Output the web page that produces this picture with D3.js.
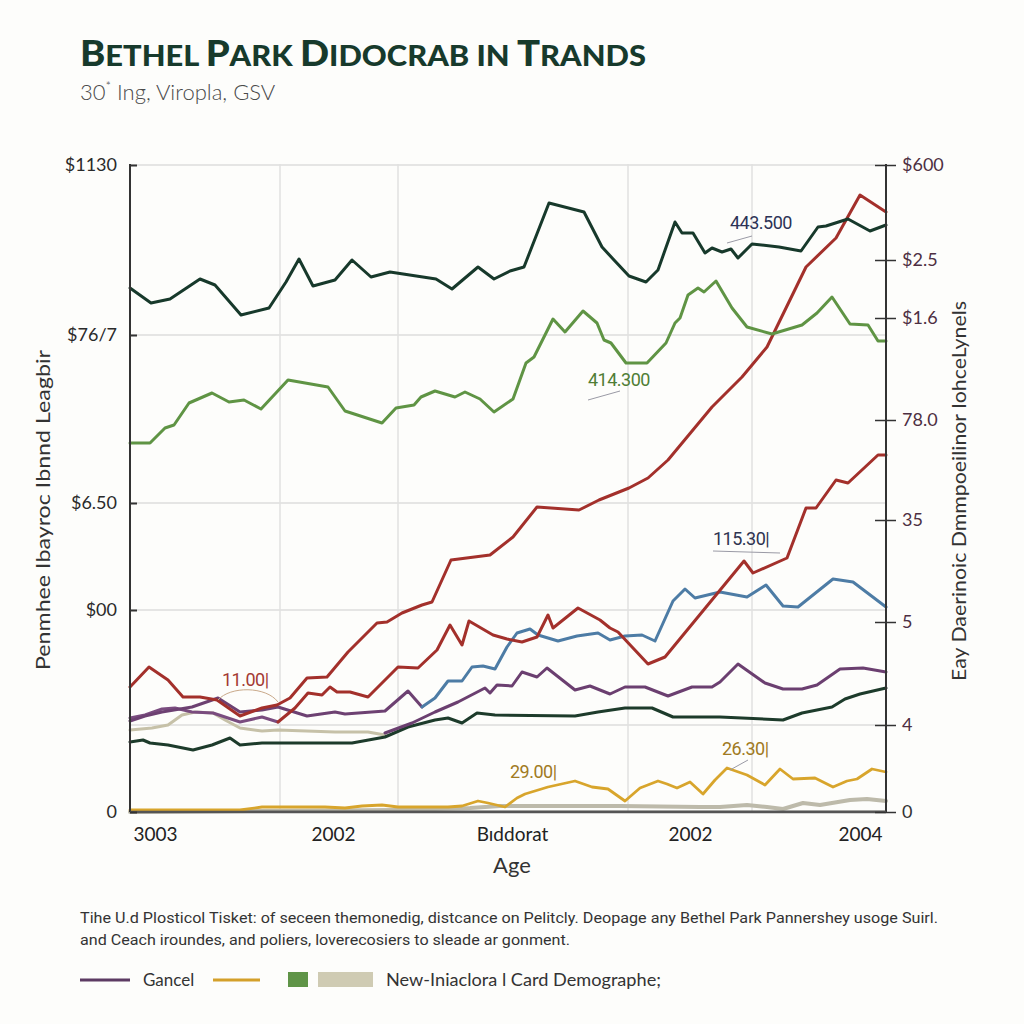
<!DOCTYPE html>
<html><head><meta charset="utf-8">
<script src="https://cdn.jsdelivr.net/npm/d3@7"></script>
<style>
html,body{margin:0;padding:0;background:#fdfdfb;}
svg{display:block;}
</style></head><body>
<svg id="chart" width="1024" height="1024"></svg>
<script>
// ---------- DATA ----------
const leftTickValues = [0, 101, 154.5, 238.5, 323.5];
const leftTickLabels = ["0", "$00", "$6.50", "$76/7", "$1130"];
const rightTickValues = [0, 43.5, 95, 146, 196, 247, 276, 323.5];
const rightTickLabels = ["0", "4", "5", "35", "78.0", "$1.6", "$2.5", "$600"];
const xTickValues = [12.5, 101.5, 191, 280, 365];
const xTickLabels = ["3003", "2002", "Bıddorat", "2002", "2004"];
const gridXValues = [75, 134, 249, 311];
const gridYValues = [43.5, 101, 154.5, 238.5, 323.5];

const darkTop = [[0,262],[10.5,254.5],[20,256.5],[35,266.5],[42.5,263.5],[55.5,248.5],[69.5,252],[78,265],[84.5,276.5],[91.5,263],[102.5,266],[111,276],[120.5,267.5],[130,270],[153,266.5],[161,261.5],[174,272.5],[182,266.5],[190,270.5],[197,272.5],[209.5,304.5],[227,300],[236,282.5],[242,276],[249.5,268],[258,265],[264,271],[272.5,295],[276,289.5],[281.5,289.5],[287.5,279.5],[291,282],[296,280],[300.5,281.5],[304,277],[311,284],[324.5,282.5],[335.5,280.5],[344,292.5],[348,293],[359,296.5],[370,290.5],[378,293.5]];
const greenLine = [[0,184.5],[10,184.5],[17.5,192],[22,193.5],[29.5,204.5],[41,209.5],[49.5,205],[57,206],[65.5,201.5],[79,216],[99,212.5],[107.5,200.5],[126,194.5],[133,202],[142,203.5],[145.5,207.5],[152.5,210.5],[162.5,207.5],[167.5,210],[175,206.5],[182,200],[191.5,206.5],[198,224.5],[202,227.5],[207,237.5],[211.5,246.5],[217.5,240],[226.5,250.5],[233.5,244.5],[237,236],[240.5,234.5],[248,224.5],[258.5,224.5],[268,234.5],[272.5,244.5],[275,247],[279,258.5],[284,262],[287,260],[293,265.5],[301,252],[308.5,242.5],[321,239],[336,243.5],[343.5,249.5],[351,257.5],[360,244],[369,243.5],[374,235.5],[378,235.5]];
const redA = [[0,62.5],[9.5,72.5],[19,66],[26.5,57.5],[35,57.5],[43.5,56],[55,48],[66,52],[73.5,53.5],[80,57],[88.5,67],[98.5,67.5],[109,80],[123.5,94.5],[128.5,95],[136,99.5],[146,103.5],[151,105],[160.5,126],[180,128.5],[191.5,137.5],[203.5,152.5],[224.5,151],[234.5,156],[249.5,162],[259,167],[269,176],[291,202.5],[306,217.5],[318.5,232.5],[338,272.5],[353,287],[365,308.5],[378,300]];
const redB = [[74,45],[82.5,52],[89,59.5],[96,58.5],[100,62.5],[103.5,60],[110,60],[119,57.5],[134,72.5],[144,72],[153.5,81],[160,93.5],[166,83.5],[169.5,95.5],[181.5,88.5],[188.5,86.5],[196,85],[203.5,87.5],[209,98.5],[211.5,92],[224,102],[235,96],[240,92],[244,90],[259,74],[267.5,77.5],[307,125.5],[311.5,119.5],[328.5,127],[338,152],[343,152],[353,166],[359,164.5],[374,178.5],[378,178.5]];
const blueLine = [[146,52.5],[152.5,57],[159,65.5],[166,65.5],[171,72.5],[176.5,73],[182.5,71.5],[188.5,82.5],[193.5,89.5],[200,91.5],[204,88.5],[214,85.5],[223.5,88],[234,89.5],[240,86],[247.5,88],[256,88.5],[262.5,85.5],[271.5,105.5],[277.5,111.5],[282.5,107],[295,110],[308.5,107.5],[318,113.5],[326.5,103],[334,102.5],[351.5,116.5],[361.5,115],[378,102.5]];
const purpleMain = [[127.5,39.5],[141,44.5],[152.5,50],[164,55],[177.5,62],[180,59.5],[183.5,63.5],[191,63],[196,70],[203.5,67.5],[208.5,72],[222.5,61],[230,63],[240,59],[247.5,62.5],[257.5,62.5],[269,58],[281,62.5],[291,62.5],[295,65],[304,74],[317.5,64.5],[326.5,61.5],[336,61.5],[343.5,63.5],[355,71.5],[366.5,72],[378,70]];
const purpleEarlyA = [[0,47],[7.5,48.5],[16,51.5],[22.5,52],[31,50],[41.5,49.5],[55,45],[66,47.5],[74,45]];
const purpleEarlyB = [[0,45.5],[7.5,48],[16,50],[31,52.5],[44,57],[55,50],[66,51],[74,52.5],[88.5,48],[102.5,50],[107.5,49],[127.5,50.5],[139,60.5],[146,52.5]];
const beigeLine = [[0,41],[11,42],[19,43.5],[26,48.5],[32.5,50],[41.5,49.5],[47.5,46],[55,42],[66,40.5],[74,41],[102.5,40],[119,40],[127.5,38.5]];
const darkLow = [[0,35],[6.5,36],[10,34.5],[19,33.5],[31.5,31],[41,33.5],[50,37],[55,33.5],[66,34.5],[74,34.5],[111,34.5],[127.5,37.5],[139,42.5],[152.5,46],[159,47],[166,44.5],[173.5,49.5],[182.5,48.5],[222.5,48],[234,50],[247.5,52],[261,52],[271.5,47.5],[295,47.5],[326.5,46],[336,49.5],[351,52.5],[357.5,56.5],[365,59],[378,62]];
const goldLine = [[0,1],[55,1],[66,2.5],[97.5,2.5],[107.5,2],[116,3],[126,3.5],[134,2.5],[159,2.5],[166,3],[174,5.5],[179,4.5],[187.5,2.5],[193.5,7],[197.5,9],[209,12.5],[222.5,15.5],[231,12.5],[239,11.5],[247.5,5.5],[255,12],[264,15.5],[268.5,14],[273.5,12],[280,15],[286.5,9],[292.5,16],[298.5,22],[308.5,18.5],[317.5,13.5],[325,21.5],[331.5,16.5],[342.5,17],[351.5,12.5],[358.5,15.5],[363.5,16.5],[371,21.5],[378,20]];
const grayLine = [[0,0],[60,0.5],[135,1],[170,2],[185,3],[215,3],[245,3],[285,2.5],[295,2.5],[308.5,3.5],[318.5,2.5],[326.5,1.5],[336.5,4.5],[345,3.5],[360,6],[368.5,6.5],[378,5.5]];
const grayDark = [[0,0.3],[378,0.3]];

const annotations = [
  {text:"443.500", x:300, y:291.5, color:"#2c3356", arrow:[[311,288],[298.5,284.5]]},
  {text:"414.300", x:229, y:213, color:"#4f7d35", arrow:[[245,210.5],[229,206]]},
  {text:"115.30|", x:291.5, y:133.5, color:"#2e3350", arrow:[[291.5,130.5],[325,129.5]]},
  {text:"11.00|", x:46, y:63, color:"#a33a33", arrow:null},
  {text:"29.00|", x:190, y:17, color:"#a07a22", arrow:null},
  {text:"26.30|", x:296, y:28.5, color:"#a07a22", arrow:[[309,26],[300,21]]}
];

// ---------- SETUP ----------
const svg = d3.select("#chart");
svg.append("rect").attr("width",1024).attr("height",1024).attr("fill","#fdfdfb");
const M = {left:130, right:886, top:164, bottom:812};
const x = d3.scaleLinear().domain([0,378]).range([M.left, M.right]);
const y = d3.scaleLinear().domain([0,324]).range([M.bottom, M.top]);
const FONT = "Lato, 'Open Sans', sans-serif";

// Title
const title = svg.append("text").attr("x",80).attr("y",66)
  .attr("font-family",FONT).attr("font-weight",900).attr("fill","#173a2c")
  .attr("textLength",566).attr("lengthAdjust","spacingAndGlyphs");
[["B",36],["ETHEL ",29],["P",36],["ARK ",29],["D",36],["IDOCRAB ",29],["IN ",29],["T",36],["RANDS",29]]
  .forEach(([t,s])=>title.append("tspan").attr("font-size",s).text(t));

const sub = svg.append("text").attr("x",80).attr("y",100)
  .attr("font-family",FONT).attr("font-weight",300).attr("font-size",22).attr("fill","#4a4a4a");
sub.append("tspan").text("30");
sub.append("tspan").attr("font-size",13).attr("dy",-9).text("*");
sub.append("tspan").attr("dy",9).text(" Ing, Viropla, GSV");

// Grid
const g = svg.append("g");
g.selectAll(".gy").data(gridYValues).join("line")
  .attr("x1",M.left).attr("x2",M.right).attr("y1",d=>y(d)).attr("y2",d=>y(d))
  .attr("stroke","#dcdcdc").attr("stroke-width",1.5);
g.selectAll(".gx").data(gridXValues).join("line")
  .attr("y1",M.top).attr("y2",M.bottom).attr("x1",d=>x(d)).attr("x2",d=>x(d))
  .attr("stroke","#e0e0e0").attr("stroke-width",1.5);

// Lines
const line = d3.line().x(d=>x(d[0])).y(d=>y(d[1]));
const lg = svg.append("g").attr("fill","none").attr("stroke-linejoin","round").attr("stroke-linecap","round");
const draw = (data,color,w)=>lg.append("path").datum(data).attr("d",line).attr("stroke",color).attr("stroke-width",w);
draw(grayLine,"#bdbaaa",4);
draw(grayDark,"#7d7d78",2);
draw(goldLine,"#d8a52c",2.8);
draw(beigeLine,"#c6c1a8",3);
draw(darkLow,"#1d3b2b",3);
draw(purpleEarlyA,"#7a4c7f",3);
draw(purpleEarlyB,"#6d4172",3);
draw(purpleMain,"#6b3f70",3);
draw(blueLine,"#4d7ca5",3);
draw(redB,"#a3302b",3);
draw(redA,"#a3302b",3);
draw(greenLine,"#5f9444",3);
draw(darkTop,"#17392b",3);

// Axes
const axG = svg.append("g").attr("stroke","#333").attr("stroke-width",2);
axG.append("line").attr("x1",M.left).attr("x2",M.left).attr("y1",M.top).attr("y2",M.bottom);
axG.append("line").attr("x1",M.right).attr("x2",M.right).attr("y1",M.top).attr("y2",M.bottom);
axG.append("line").attr("x1",M.left).attr("x2",M.right).attr("y1",M.bottom).attr("y2",M.bottom).attr("stroke","#555").attr("stroke-width",2.5);

const leftAxis = svg.append("g").attr("transform",`translate(${M.left},0)`)
  .call(d3.axisLeft(y).tickValues(leftTickValues).tickFormat((d,i)=>leftTickLabels[i]).tickSize(-7).tickPadding(13).tickSizeOuter(0));
leftAxis.select(".domain").remove();
leftAxis.selectAll("line").attr("stroke","#333").attr("stroke-width",2);
leftAxis.selectAll("text").attr("font-family",FONT).attr("font-size",18).attr("fill","#2a2a2a");

const rightAxis = svg.append("g").attr("transform",`translate(${M.right},0)`)
  .call(d3.axisRight(y).tickValues(rightTickValues).tickFormat((d,i)=>rightTickLabels[i]).tickSize(10).tickPadding(6).tickSizeOuter(0));
rightAxis.select(".domain").remove();
rightAxis.selectAll(".tick line").attr("x1",-11).attr("stroke","#333").attr("stroke-width",1.5);
rightAxis.selectAll("text").attr("font-family",FONT).attr("font-size",18)
  .attr("fill",(d,i)=>i===0?"#333":"#4d2f42");

const bottomAxis = svg.append("g").attr("transform",`translate(0,${M.bottom})`)
  .call(d3.axisBottom(x).tickValues(xTickValues).tickFormat((d,i)=>xTickLabels[i]).tickSize(0).tickPadding(16));
bottomAxis.select(".domain").remove();
bottomAxis.selectAll("text").attr("font-family",FONT).attr("font-size",19).attr("fill","#222");

svg.append("text").attr("x",x(191)).attr("y",873).attr("text-anchor","middle")
  .attr("font-family",FONT).attr("font-size",22).attr("fill","#333").text("Age");

svg.append("text").attr("transform","translate(50,510) rotate(-90)").attr("text-anchor","middle")
  .attr("font-family",FONT).attr("font-size",19).attr("fill","#333")
  .attr("textLength",320).attr("lengthAdjust","spacingAndGlyphs")
  .text("Penmhee Ibayroc Ibnnd Leagbir");
svg.append("text").attr("transform","translate(966,491) rotate(-90)").attr("text-anchor","middle")
  .attr("font-family",FONT).attr("font-size",19).attr("fill","#333")
  .attr("textLength",380).attr("lengthAdjust","spacingAndGlyphs")
  .text("Eay Daerinoic Dmmpoeilinor IohceLynels");

// Annotations
const an = svg.append("g");
annotations.forEach(a=>{
  an.append("text").attr("x",x(a.x)).attr("y",y(a.y)).attr("font-family","Roboto, sans-serif")
    .attr("font-size",18).attr("fill",a.color).attr("letter-spacing",-0.5).text(a.text);
  if(a.arrow){
    an.append("path").datum(a.arrow).attr("d",line).attr("fill","none")
      .attr("stroke","#9a9aa5").attr("stroke-width",1);
  }
});
an.append("path")
  .attr("d",`M${x(44)},${y(56)} C${x(50)},${y(63)} ${x(68)},${y(63)} ${x(74)},${y(55)}`)
  .attr("fill","none").attr("stroke","#c9a98a").attr("stroke-width",1);

// Caption
const cap = svg.append("g").attr("font-family","Roboto, sans-serif").attr("font-size",15).attr("fill","#333");
cap.append("text").attr("x",80).attr("y",923).attr("textLength",858).attr("lengthAdjust","spacingAndGlyphs")
  .text("Tihe U.d Plosticol Tisket: of seceen themonedig, distcance on Pelitcly. Deopage any Bethel Park Pannershey usoge Suirl.");
cap.append("text").attr("x",80).attr("y",945).attr("textLength",490).attr("lengthAdjust","spacingAndGlyphs")
  .text("and Ceach iroundes, and poliers, loverecosiers to sleade ar gonment.");

// Legend
const leg = svg.append("g");
leg.append("line").attr("x1",80).attr("x2",130).attr("y1",980).attr("y2",980).attr("stroke","#5c3a63").attr("stroke-width",3);
leg.append("text").attr("x",143).attr("y",986).attr("font-family",FONT).attr("font-size",17).attr("fill","#333").text("Gancel");
leg.append("line").attr("x1",213).attr("x2",260).attr("y1",980).attr("y2",980).attr("stroke","#d4a02a").attr("stroke-width",3);
leg.append("rect").attr("x",288).attr("y",972).attr("width",20).attr("height",15).attr("fill","#5f9447");
leg.append("rect").attr("x",318).attr("y",972).attr("width",55).attr("height",15).attr("fill","#cfcbb3");
leg.append("text").attr("x",386).attr("y",986).attr("font-family",FONT).attr("font-size",17).attr("fill","#333")
  .attr("textLength",275).attr("lengthAdjust","spacingAndGlyphs").text("New-Iniaclora l Card Demographe;");
</script>
</body></html>
